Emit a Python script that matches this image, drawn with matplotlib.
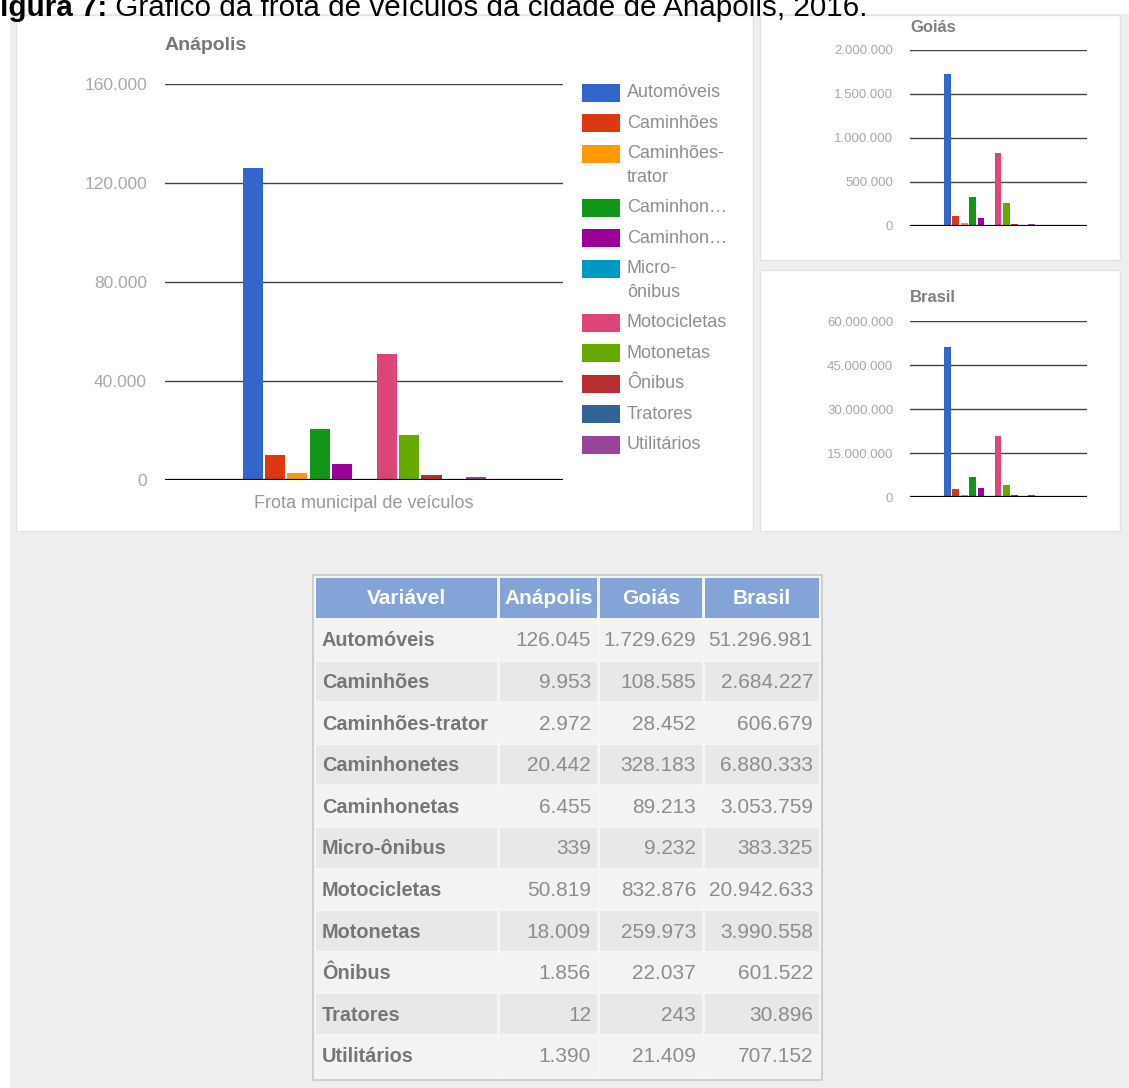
import matplotlib
matplotlib.use("Agg")
import matplotlib.pyplot as plt
from matplotlib.patches import Rectangle
from matplotlib.ticker import FuncFormatter

plt.rcParams['font.family'] = ['Liberation Sans', 'DejaVu Sans']

# frota de veículos por tipo (2016)
categorias = ["Automóveis", "Caminhões", "Caminhões-trator", "Caminhonetes", "Caminhonetas",
              "Micro-ônibus", "Motocicletas", "Motonetas", "Ônibus", "Tratores", "Utilitários"]
legenda = ["Automóveis", "Caminhões", "Caminhões-\ntrator", "Caminhon…", "Caminhon…",
           "Micro-\nônibus", "Motocicletas", "Motonetas", "Ônibus", "Tratores", "Utilitários"]
anapolis = [126045, 9953, 2972, 20442, 6455, 339, 50819, 18009, 1856, 12, 1390]
goias = [1729629, 108585, 28452, 328183, 89213, 9232, 832876, 259973, 22037, 243, 21409]
brasil = [51296981, 2684227, 606679, 6880333, 3053759, 383325, 20942633, 3990558, 601522, 30896, 707152]
colunas = ["Variável", "Anápolis", "Goiás", "Brasil"]
cores = ["#3366cc", "#dc3912", "#ff9900", "#109618", "#990099", "#0099c6",
         "#dd4477", "#66aa00", "#b82e2e", "#316395", "#994499"]

W, H = 1129, 1088
fig = plt.figure(figsize=(W / 100, H / 100), dpi=100)


def box(x0, y0, x1, y1):
    # pixel box (top-left origin) -> figure fraction rect
    return [x0 / W, 1 - y1 / H, (x1 - x0) / W, (y1 - y0) / H]


def milhar(v, pos=None):
    return f"{int(round(v)):,}".replace(",", ".")


# background layer in pixel coordinates
bg = fig.add_axes([0, 0, 1, 1], zorder=0)
bg.set_xlim(0, W)
bg.set_ylim(H, 0)
bg.axis("off")

bg.add_patch(Rectangle((10, 14), W - 10, H - 14, fc="#eeeeee", ec="none"))
for x0, y0, x1, y1 in [(16, 15, 753, 531), (760, 15, 1120, 260), (760, 270, 1120, 531)]:
    bg.add_patch(Rectangle((x0, y0), x1 - x0, y1 - y0, fc="white", ec="#e2e2e2", lw=1))

# caption
cap1 = bg.text(0, 16, "igura 7:", fontsize=21.3, fontweight="bold", va="baseline")
fig.canvas.draw()
r = fig.canvas.get_renderer()
ext = cap1.get_window_extent(r)
bg.text(ext.x1, 16, " Gráfico da frota de veículos da cidade de Anápolis, 2016.",
        fontsize=21.3, va="baseline")


def bar_chart(rect, valores, ymax, passo, xlim, width, tick_fs, pad):
    ax = fig.add_axes(rect, zorder=2)
    ax.patch.set_alpha(0)
    ax.bar(range(len(valores)), valores, width=width, color=cores, zorder=2)
    ax.set_xlim(*xlim)
    ax.set_ylim(0, ymax)
    ax.set_yticks([passo * i for i in range(5)])
    ax.yaxis.set_major_formatter(FuncFormatter(milhar))
    ax.set_xticks([])
    ax.tick_params(axis="y", length=0, pad=pad, labelsize=tick_fs, labelcolor="#a8a8a8")
    ax.yaxis.grid(True, color="#444444", lw=1)
    ax.set_axisbelow(True)
    for s in ax.spines.values():
        s.set_visible(False)
    ax.axhline(0, color="black", lw=1.6, zorder=3)
    return ax


bar_chart(box(165, 84, 563, 480), anapolis, 160000, 40000, (-3.93, 13.89), 0.9, 12.5, 13)
bar_chart(box(910, 50, 1087, 226), goias, 2000000, 500000, (-4.43, 16.57), 0.8, 9.5, 12)
bar_chart(box(910, 321, 1087, 497), brasil, 60000000, 15000000, (-4.43, 16.57), 0.8, 9.5, 12)

bg.text(165, 45, "Anápolis", fontsize=14, fontweight="bold", color="#777777", va="center")
bg.text(910, 27, "Goiás", fontsize=12, fontweight="bold", color="#808080", va="center")
bg.text(910, 297, "Brasil", fontsize=12, fontweight="bold", color="#808080", va="center")
bg.text(364, 503, "Frota municipal de veículos", fontsize=13, color="#999999",
        ha="center", va="center")

# legend
y = 92.7
for nome, cor in zip(legenda, cores):
    bg.add_patch(Rectangle((582, y - 9), 38, 18, fc=cor, ec="none"))
    linhas = nome.split("\n")
    for i, ln in enumerate(linhas):
        bg.text(627, y + i * 23.5, ln, fontsize=13, color="#8e8e8e", va="center")
    y += 30.5 + 23.5 * (len(linhas) - 1)

# table
tx0, tx1, ty0 = 313, 822, 575
bg.add_patch(Rectangle((tx0, ty0), tx1 - tx0, 505, fc="#f5f5f5", ec="#c8c8c8", lw=1.2))
cols = [(316, 497), (500, 597), (600, 702), (705, 819)]
hy0, hy1 = 578, 618
for (c0, c1), nome in zip(cols, colunas):
    bg.add_patch(Rectangle((c0, hy0), c1 - c0, hy1 - hy0, fc="#84a4d7", ec="none"))
    bg.text((c0 + c1) / 2, (hy0 + hy1) / 2, nome, fontsize=15, fontweight="bold",
            color="white", ha="center", va="center")
rh = 41.6
for i, cat in enumerate(categorias):
    ry = 620 + i * rh
    fc = "#f3f3f3" if i % 2 == 0 else "#e8e8e8"
    for c0, c1 in cols:
        bg.add_patch(Rectangle((c0, ry), c1 - c0, rh - 2, fc=fc, ec="none"))
    cy = ry + rh / 2
    bg.text(322, cy, cat, fontsize=14.3, fontweight="bold", color="#767676", va="center")
    for (c0, c1), serie in zip(cols[1:], [anapolis, goias, brasil]):
        bg.text(c1 - 6, cy, milhar(serie[i]), fontsize=15, color="#8c8c8c",
                ha="right", va="center")

fig.savefig("out.png", dpi=100, facecolor="white")
